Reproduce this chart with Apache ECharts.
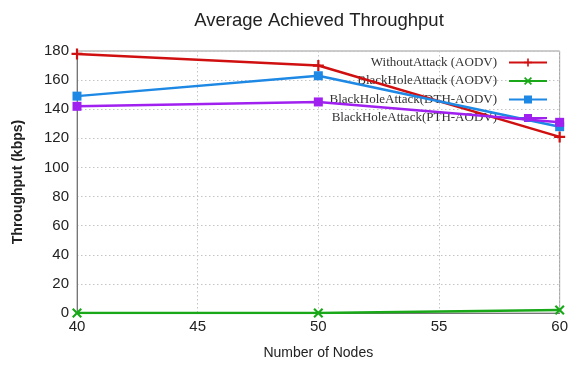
<!DOCTYPE html>
<html>
<head>
<meta charset="utf-8">
<script src="https://cdn.jsdelivr.net/npm/echarts@6/dist/echarts.min.js"></script>
<style>
  html, body { margin: 0; padding: 0; background: #fff; }
  #chart { width: 571px; height: 365px; }
</style>
</head>
<body>
<div id="chart"></div>
<script>
// Number of nodes on the x axis
const nodes = [40, 50, 60];
// Throughput in kbps for each scenario
const withoutAttack = [178, 170, 121];
const blackHoleAodv = [0, 0, 2];
const blackHoleDth = [149, 163, 128];
const blackHolePth = [142, 145, 131];
const seriesNames = [
  'WithoutAttack (AODV)',
  'BlackHoleAttack (AODV)',
  'BlackHoleAttack(DTH-AODV)',
  'BlackHoleAttack(PTH-AODV)'
];
const yTicks = [0, 20, 40, 60, 80, 100, 120, 140, 160, 180];

const plusPath = 'path://M4,0H6V4H10V6H6V10H4V6H0V4H4Z';
const crossPath = 'path://M1.5,0L5,3.5L8.5,0L10,1.5L6.5,5L10,8.5L8.5,10L5,6.5L1.5,10L0,8.5L3.5,5L0,1.5Z';

function pairs(vals) {
  return nodes.map((n, i) => [n, vals[i]]);
}

function lineSeries(name, vals, color, symbol, size) {
  return {
    name: name,
    type: 'line',
    z: 6,
    data: pairs(vals),
    symbol: symbol,
    symbolSize: size,
    showSymbol: true,
    lineStyle: { color: color, width: 2.5 },
    itemStyle: { color: color },
    emphasis: { disabled: true },
    animation: false
  };
}

const chart = echarts.init(document.getElementById('chart'), null, { renderer: 'canvas' });
chart.setOption({
  animation: false,
  title: {
    text: 'Average Achieved Throughput',
    left: 314,
    textAlign: 'center',
    top: 6,
    textStyle: { fontFamily: 'Liberation Sans, Arial', fontSize: 18.5, fontWeight: 'normal', color: '#222' }
  },
  legend: {
    data: seriesNames,
    orient: 'vertical',
    right: 19,
    top: 56,
    z: 3,
    align: 'right',
    itemWidth: 38,
    itemHeight: 10,
    itemGap: 5.5,
    backgroundColor: 'transparent',
    padding: [0, 4, 0, 4],
    textStyle: { fontFamily: 'Liberation Serif, Times New Roman', fontSize: 13, color: '#333', padding: [0, 7, 0, 0] }
  },
  grid: { left: 77, right: 8, top: 51, bottom: 52, show: true, borderColor: '#999', borderWidth: 1 },
  xAxis: {
    type: 'value',
    min: 40,
    max: 60,
    interval: 5,
    name: 'Number of Nodes',
    nameLocation: 'middle',
    nameGap: 33,
    nameTextStyle: { fontFamily: 'Liberation Sans, Arial', fontSize: 14, color: '#222' },
    axisLine: { lineStyle: { color: '#777' } },
    axisTick: { show: false },
    axisLabel: { fontFamily: 'Liberation Sans, Arial', fontSize: 15, color: '#222', margin: 6 },
    splitLine: { show: true, lineStyle: { color: '#c4c4c4', type: [1.5, 2.5] } }
  },
  yAxis: {
    type: 'value',
    min: yTicks[0],
    max: yTicks[yTicks.length - 1],
    interval: 20,
    name: 'Throughput (kbps)',
    nameLocation: 'middle',
    nameGap: 52,
    nameTextStyle: { fontFamily: 'Liberation Sans, Arial', fontSize: 14, fontWeight: 'bold', color: '#222' },
    axisLine: { show: true, lineStyle: { color: '#777' } },
    axisTick: { show: false },
    axisLabel: { fontFamily: 'Liberation Sans, Arial', fontSize: 15, color: '#222', margin: 8 },
    splitLine: { show: true, lineStyle: { color: '#c4c4c4', type: [1.5, 2.5] } }
  },
  series: [
    lineSeries(seriesNames[0], withoutAttack, '#d01010', plusPath, 11),
    lineSeries(seriesNames[1], blackHoleAodv, '#18a818', crossPath, 10),
    lineSeries(seriesNames[2], blackHoleDth, '#1e88e5', 'rect', 9),
    lineSeries(seriesNames[3], blackHolePth, '#a020f0', 'rect', 9)
  ]
});
</script>
</body>
</html>
